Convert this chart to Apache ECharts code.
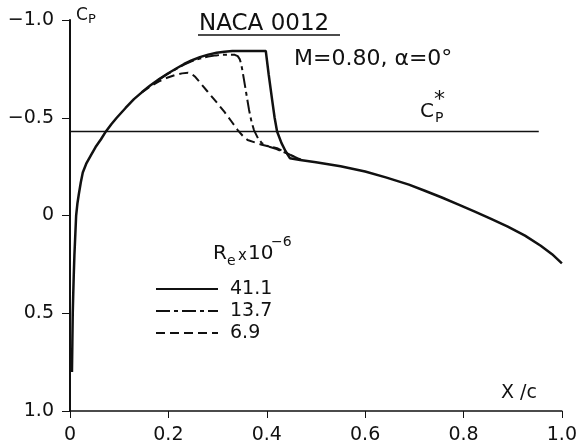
<!DOCTYPE html>
<html>
<head>
<meta charset="utf-8">
<script src="https://cdn.jsdelivr.net/npm/echarts@6/dist/echarts.min.js"></script>
<style>html,body{margin:0;padding:0;background:#fff}#c{width:580px;height:445px}</style>
</head>
<body>
<div id="c"></div>
<script>
// ---- data ----
var xTickLabels = ['0', '0.2', '0.4', '0.6', '0.8', '1.0'];
var yTickLabels = ['\u22121.0', '\u22120.5', '0', '0.5', '1.0'];
var seriesNames = ['41.1', '13.7', '6.9'];

var re411 = [
  [0.004, 0.80], [0.0048, 0.65], [0.0056, 0.50], [0.0066, 0.40], [0.0077, 0.30],
  [0.009, 0.20], [0.0104, 0.12], [0.0125, 0.0], [0.015, -0.06], [0.018, -0.11],
  [0.022, -0.17], [0.026, -0.22], [0.033, -0.265], [0.043, -0.31], [0.052, -0.35],
  [0.063, -0.39], [0.073, -0.43], [0.084, -0.467], [0.095, -0.50], [0.113, -0.55],
  [0.13, -0.595], [0.146, -0.63], [0.163, -0.665], [0.18, -0.695], [0.198, -0.725],
  [0.216, -0.752], [0.232, -0.775], [0.247, -0.793], [0.264, -0.81], [0.281, -0.823],
  [0.298, -0.832], [0.314, -0.838], [0.33, -0.841], [0.35, -0.842], [0.398, -0.842],
  [0.404, -0.72], [0.411, -0.59], [0.416, -0.50], [0.421, -0.43], [0.43, -0.37],
  [0.438, -0.33], [0.447, -0.293], [0.468, -0.284], [0.50, -0.272], [0.55, -0.252],
  [0.60, -0.225], [0.642, -0.195], [0.689, -0.158], [0.72, -0.128], [0.756, -0.092],
  [0.79, -0.056], [0.823, -0.02], [0.856, 0.017], [0.89, 0.057], [0.925, 0.103],
  [0.957, 0.155], [0.98, 0.198], [1.0, 0.245]
];
var re137 = [
  [0.18, -0.695], [0.198, -0.723], [0.216, -0.75], [0.232, -0.772], [0.247, -0.789],
  [0.264, -0.803], [0.281, -0.813], [0.297, -0.819], [0.31, -0.822], [0.335, -0.822],
  [0.341, -0.815], [0.345, -0.80], [0.348, -0.775], [0.351, -0.735], [0.354, -0.69],
  [0.359, -0.615], [0.364, -0.54], [0.369, -0.48], [0.374, -0.437], [0.382, -0.396],
  [0.39, -0.37], [0.405, -0.352], [0.42, -0.34], [0.448, -0.31], [0.47, -0.284]
];
var re69 = [
  [0.146, -0.63], [0.163, -0.66], [0.18, -0.685], [0.196, -0.703], [0.213, -0.718],
  [0.228, -0.727], [0.24, -0.73], [0.248, -0.723], [0.255, -0.708], [0.267, -0.672],
  [0.28, -0.633], [0.297, -0.582], [0.314, -0.53], [0.328, -0.482], [0.341, -0.437],
  [0.351, -0.408], [0.361, -0.386], [0.39, -0.362], [0.421, -0.344], [0.448, -0.31],
  [0.47, -0.284]
];
var cpStar = [[0, -0.43], [0.953, -0.43]];

// ---- chart ----
var ink = '#111';
var F = 'DejaVu Sans';
var chart = echarts.init(document.getElementById('c'));
function txt(x, y, s, size) {
  return { type: 'text', left: x, top: y, style: { text: s, font: size + 'px "' + F + '"', fill: ink } };
}
chart.setOption({
  animation: false,
  backgroundColor: '#fff',
  grid: { left: 70, right: 12, top: 20, bottom: 34 },
  xAxis: {
    type: 'value', min: 0, max: 1, interval: 0.2,
    axisLine: { onZero: false, lineStyle: { color: ink, width: 1.5 } },
    axisTick: { show: true, inside: false, length: 7, lineStyle: { color: ink, width: 1 } },
    splitLine: { show: false },
    axisLabel: {
      margin: 15, color: ink, fontFamily: F, fontSize: 19,
      formatter: function (v) { return xTickLabels[Math.round(v / 0.2)]; }
    }
  },
  yAxis: {
    type: 'value', min: -1, max: 1, interval: 0.5, inverse: true,
    axisLine: { show: true, onZero: false, lineStyle: { color: ink, width: 2 } },
    axisTick: { show: true, inside: false, length: 8, lineStyle: { color: ink, width: 1 } },
    splitLine: { show: false },
    axisLabel: {
      margin: 16, color: ink, fontFamily: F, fontSize: 19,
      formatter: function (v) { return yTickLabels[Math.round((v + 1) / 0.5)]; }
    }
  },
  legend: {
    data: seriesNames, orient: 'vertical', left: 150, top: 273,
    itemWidth: 62, itemHeight: 10, itemGap: 0,
    itemStyle: { opacity: 0 },
    textStyle: { color: ink, fontFamily: F, fontSize: 19, lineHeight: 22, padding: [0, 0, 0, 7] }
  },
  series: [
    { name: seriesNames[0], type: 'line', data: re411, symbol: 'none', showSymbol: false,
      lineStyle: { color: ink, width: 2.5, type: 'solid' }, itemStyle: { color: ink }, z: 3 },
    { name: seriesNames[1], type: 'line', data: re137, symbol: 'none', showSymbol: false,
      lineStyle: { color: ink, width: 2, type: [14, 4, 4, 4] }, itemStyle: { color: ink }, z: 2 },
    { name: seriesNames[2], type: 'line', data: re69, symbol: 'none', showSymbol: false,
      lineStyle: { color: ink, width: 2, type: [9, 5] }, itemStyle: { color: ink }, z: 2 },
    { name: 'Cp*', type: 'line', data: cpStar, symbol: 'none', silent: true,
      lineStyle: { color: ink, width: 1.5 }, itemStyle: { color: ink }, z: 1 }
  ],
  graphic: [
    txt(199, 13, 'NACA 0012', 23),
    { type: 'line', shape: { x1: 198, y1: 35, x2: 340, y2: 35 }, style: { stroke: ink, lineWidth: 1.5 } },
    txt(294, 48, 'M=0.80, \u03b1=0\u00b0', 22),
    // Cp* label
    txt(420, 102, 'C', 20),
    txt(435, 111, 'P', 14),
    txt(434, 89, '*', 22),
    // Cp axis label
    txt(76, 7, 'C', 17),
    txt(88, 13, 'P', 13),
    // x/c axis label
    txt(501, 384, 'X /c', 19),
    // Re x 10^-6
    txt(213, 244, 'R', 20),
    txt(227, 254, 'e', 14),
    txt(238, 249, 'x', 15),
    txt(248, 244, '10', 20),
    txt(271, 235, '\u22126', 14)
  ]
});
</script>
</body>
</html>
